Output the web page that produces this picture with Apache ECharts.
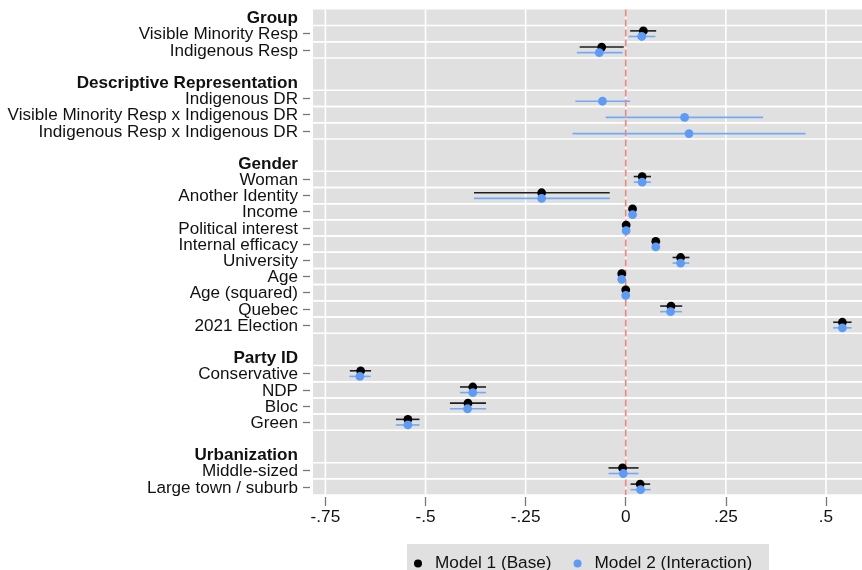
<!DOCTYPE html>
<html>
<head>
<meta charset="utf-8">
<script src="https://cdn.jsdelivr.net/npm/echarts@6/dist/echarts.min.js"></script>
<style>
  html, body { margin: 0; padding: 0; background: #fff; }
  #chart { width: 862px; height: 570px; }
</style>
</head>
<body>
<div id="chart"></div>
<script>
// Row layout of the coefficient plot: section headers, terms and spacer rows (top to bottom)
const ROWS = [
  'Group', 'Visible Minority Resp', 'Indigenous Resp', ' ',
  'Descriptive Representation', 'Indigenous DR', 'Visible Minority Resp x Indigenous DR', 'Indigenous Resp x Indigenous DR', '  ',
  'Gender', 'Woman', 'Another Identity', 'Income', 'Political interest', 'Internal efficacy', 'University', 'Age', 'Age (squared)', 'Quebec', '2021 Election', '   ',
  'Party ID', 'Conservative', 'NDP', 'Bloc', 'Green', '    ',
  'Urbanization', 'Middle-sized', 'Large town / suburb'
];
const HEADERS = ['Group', 'Descriptive Representation', 'Gender', 'Party ID', 'Urbanization'];

// Model terms, in plotting order
const TERMS = [
  'Visible Minority Resp', 'Indigenous Resp', 'Indigenous DR', 'Visible Minority Resp x Indigenous DR', 'Indigenous Resp x Indigenous DR',
  'Woman', 'Another Identity', 'Income', 'Political interest', 'Internal efficacy', 'University', 'Age', 'Age (squared)', 'Quebec', '2021 Election',
  'Conservative', 'NDP', 'Bloc', 'Green', 'Middle-sized', 'Large town / suburb'
];

// Model 1 (Base): estimates and 95% CI bounds (null = term not in model)
const M1_EST  = [0.044, -0.060, null, null, null, 0.041, -0.210, 0.017, 0.001, 0.075, 0.137, -0.010, 0.000, 0.113, 0.541, -0.662, -0.382, -0.394, -0.544, -0.008, 0.036];
const M1_LOW  = [0.011, -0.115, null, null, null, 0.020, -0.379, 0.012, -0.004, 0.068, 0.117, -0.016, -0.005, 0.086, 0.518, -0.689, -0.414, -0.439, -0.574, -0.043, 0.012];
const M1_HIGH = [0.076, -0.005, null, null, null, 0.063, -0.040, 0.022, 0.006, 0.082, 0.159, -0.004, 0.005, 0.141, 0.564, -0.636, -0.349, -0.349, -0.515, 0.032, 0.061];

// Model 2 (Interaction)
const M2_EST  = [0.040, -0.066, -0.058, 0.147, 0.158, 0.041, -0.210, 0.017, 0.001, 0.075, 0.137, -0.010, 0.000, 0.112, 0.541, -0.664, -0.382, -0.395, -0.544, -0.006, 0.037];
const M2_LOW  = [0.007, -0.122, -0.126, -0.050, -0.133, 0.020, -0.379, 0.012, -0.004, 0.068, 0.117, -0.016, -0.005, 0.086, 0.518, -0.690, -0.414, -0.439, -0.574, -0.043, 0.012];
const M2_HIGH = [0.074, -0.008, 0.011, 0.343, 0.449, 0.063, -0.040, 0.022, 0.006, 0.082, 0.159, -0.004, 0.005, 0.140, 0.564, -0.637, -0.349, -0.349, -0.515, 0.032, 0.062];

// X axis ticks and labels
const X_TICKS = [-0.75, -0.5, -0.25, 0, 0.25, 0.5];
const X_TICK_LABELS = ['-.75', '-.5', '-.25', '0', '.25', '.5'];
const ZERO_LINE = 0;

const SERIES_NAMES = ['Model 1 (Base)', 'Model 2 (Interaction)'];

const FONT = "'Liberation Sans', Arial, Helvetica, sans-serif";
const BG = '#e0e0e0';
const BLACK_DOT = '#000000';
const BLACK_LINE = '#1e1e1e';
const BLUE_DOT = '#5c9cf7';
const BLUE_LINE = '#72aaf6';
const DODGE = 2.8; // px vertical offset between the two models

const rowIndexOf = name => ROWS.indexOf(name);
const termRows = TERMS.map(rowIndexOf);

function pointData(est) {
  const out = [];
  est.forEach((v, i) => { if (v !== null) out.push([v, termRows[i]]); });
  return out;
}
function ciData(low, high) {
  const out = [];
  low.forEach((v, i) => { if (v !== null) out.push([v, high[i], termRows[i]]); });
  return out;
}

function ciRenderer(color, dy) {
  return function (params, api) {
    const a = api.coord([api.value(0), api.value(2)]);
    const b = api.coord([api.value(1), api.value(2)]);
    return {
      type: 'line',
      shape: { x1: a[0], y1: a[1] + dy, x2: b[0], y2: b[1] + dy },
      style: { stroke: color, lineWidth: 1.6 }
    };
  };
}

const chart = echarts.init(document.getElementById('chart'), null, { renderer: 'canvas' });

const option = {
  animation: false,
  backgroundColor: '#ffffff',
  textStyle: { fontFamily: FONT },
  graphic: [{
    type: 'rect',
    left: 407, top: 544,
    shape: { width: 362, height: 40 },
    style: { fill: BG },
    z: 0
  }],
  legend: {
    data: SERIES_NAMES,
    left: 414,
    top: 555,
    itemWidth: 8,
    itemHeight: 8,
    itemGap: 22,
    icon: 'circle',
    padding: 0,
    textStyle: { fontSize: 17.2, color: '#111', fontFamily: FONT, padding: [0, 0, 0, 8] },
    selectedMode: false
  },
  grid: {
    left: 313, top: 9.4, right: 0, height: 485.6,
    show: true, backgroundColor: BG, borderWidth: 0
  },
  xAxis: {
    type: 'value',
    min: -0.781, max: 0.59,
    offset: 2,
    axisLine: { show: false },
    splitLine: { show: false },
    axisTick: {
      show: true, length: 9, customValues: X_TICKS,
      lineStyle: { color: '#777', width: 1.3 }
    },
    axisLabel: {
      customValues: X_TICKS,
      margin: 12,
      fontSize: 17.2, color: '#111', fontFamily: FONT,
      formatter: v => {
        const i = X_TICKS.findIndex(t => Math.abs(t - v) < 1e-9);
        return i >= 0 ? X_TICK_LABELS[i] : '';
      }
    }
  },
  yAxis: {
    type: 'category',
    data: ROWS,
    inverse: true,
    offset: 3,
    axisLine: { show: false, onZero: false },
    splitLine: { show: false },
    axisTick: {
      show: true, alignWithLabel: true, length: 7,
      interval: (i) => termRows.indexOf(i) >= 0,
      lineStyle: { color: '#777', width: 1.3 }
    },
    axisLabel: {
      interval: 0,
      margin: 12,
      padding: [2, 0, 0, 0],
      fontSize: 17.1, color: '#111', fontFamily: FONT,
      formatter: v => HEADERS.indexOf(v) >= 0 ? '{h|' + v + '}' : v,
      rich: { h: { fontWeight: 'bold', fontSize: 17.1, color: '#111', fontFamily: FONT } }
    }
  },
  series: [
    {
      // horizontal white rules around each term row
      type: 'custom',
      z: 1, silent: true,
      data: termRows.map(r => [0, r]),
      encode: { x: 0, y: 1 },
      renderItem: (params, api) => {
        const cs = params.coordSys;
        const c = api.coord([0, api.value(1)]);
        const h = api.size([0, 1])[1];
        return {
          type: 'group',
          children: [-0.5, 0.5].map(k => ({
            type: 'line',
            shape: { x1: cs.x, y1: c[1] + k * h, x2: cs.x + cs.width, y2: c[1] + k * h },
            style: { stroke: '#ffffff', lineWidth: 1.5 }
          }))
        };
      }
    },
    {
      // vertical white rules at the x ticks
      type: 'custom',
      z: 1, silent: true,
      data: X_TICKS.map(t => [t, 0]),
      encode: { x: 0, y: 1 },
      renderItem: (params, api) => {
        const cs = params.coordSys;
        const x = api.coord([api.value(0), 0])[0];
        return {
          type: 'line',
          shape: { x1: x, y1: cs.y, x2: x, y2: cs.y + cs.height },
          style: { stroke: '#ffffff', lineWidth: 1.6 }
        };
      }
    },
    {
      // dashed reference line at zero
      type: 'custom',
      z: 2, silent: true,
      data: [[ZERO_LINE, 0]],
      encode: { x: 0, y: 1 },
      renderItem: (params, api) => {
        const cs = params.coordSys;
        const x = api.coord([api.value(0), 0])[0];
        return {
          type: 'line',
          shape: { x1: x, y1: cs.y, x2: x, y2: cs.y + cs.height },
          style: { stroke: '#f0877c', lineWidth: 1.7, lineDash: [7, 3] }
        };
      }
    },
    {
      type: 'custom', name: 'ci1', z: 3, silent: true,
      data: ciData(M1_LOW, M1_HIGH),
      encode: { x: [0, 1], y: 2 },
      renderItem: ciRenderer(BLACK_LINE, -DODGE)
    },
    {
      type: 'custom', name: 'ci2', z: 3, silent: true,
      data: ciData(M2_LOW, M2_HIGH),
      encode: { x: [0, 1], y: 2 },
      renderItem: ciRenderer(BLUE_LINE, DODGE)
    },
    {
      type: 'scatter', name: SERIES_NAMES[0], z: 4,
      data: pointData(M1_EST),
      symbol: 'circle', symbolSize: 8.8,
      symbolOffset: [0, -DODGE],
      clip: false,
      itemStyle: { color: BLACK_DOT, opacity: 1 }
    },
    {
      type: 'scatter', name: SERIES_NAMES[1], z: 5,
      data: pointData(M2_EST),
      symbol: 'circle', symbolSize: 8.8,
      symbolOffset: [0, DODGE],
      clip: false,
      itemStyle: { color: BLUE_DOT, opacity: 1 }
    }
  ]
};

chart.setOption(option);
</script>
</body>
</html>
